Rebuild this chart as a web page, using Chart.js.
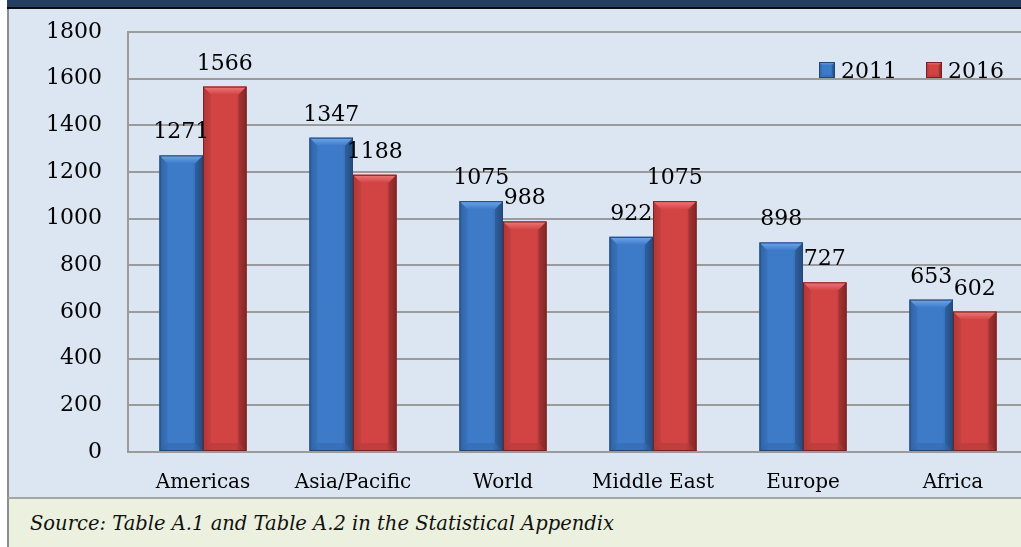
<!DOCTYPE html>
<html><head><meta charset="utf-8">
<script src="https://cdn.jsdelivr.net/npm/chart.js@4"></script>
<style>
html,body{margin:0;padding:0;background:#fff;overflow:hidden;width:1021px;height:547px;}
#top{position:absolute;left:7px;top:0;width:1014px;height:7px;background:#243f60;border-bottom:2px solid #0d0d0d;}
#main{position:absolute;left:7px;top:9px;width:1014px;height:488px;background:#dce6f2;border-left:2px solid #8c8c8c;overflow:hidden;}
#main canvas{position:absolute;left:0;top:0;}
#foot{position:absolute;left:7px;top:497px;width:1014px;height:48px;background:#ebf1de;border-left:2px solid #8c8c8c;border-top:2px solid #a6a6a6;font:italic 19.5px "DejaVu Serif",serif;color:#111;}
#foot span{position:absolute;left:21px;top:15px;line-height:19px;white-space:nowrap;}
</style></head>
<body>
<div id="top"></div>
<div id="main"><canvas id="c" width="1025" height="488"></canvas></div>
<div id="foot"><span>Source: Table A.1 and Table A.2 in the Statistical Appendix</span></div>
<script>
const categories = ['Americas','Asia/Pacific','World','Middle East','Europe','Africa'];
const values2011 = [1271,1347,1075,922,898,653];
const values2016 = [1566,1188,988,1075,727,602];
const seriesLabels = ['2011','2016'];
const yTickValues = [0,200,400,600,800,1000,1200,1400,1600,1800];

const palettes = [
  {mid:'#3d7bc9', light:'#6fa8ea', left:'#3268ad', right:'#2a5893', border:'#22467a'},
  {mid:'#d24444', light:'#ef7a7a', left:'#b93a3a', right:'#9c2d2d', border:'#7a2020'}
];

function bevel(ctx, x0, x1, yTop, yBase, p){
  const w = x1 - x0, h = yBase - yTop;
  const b = Math.min(8, w/5, h/2);
  const g = ctx.createLinearGradient(x0,0,x1,0);
  g.addColorStop(0,p.left); g.addColorStop(0.2,p.mid); g.addColorStop(0.75,p.mid); g.addColorStop(1,p.right);
  ctx.fillStyle = g; ctx.fillRect(x0,yTop,w,h);
  const gt = ctx.createLinearGradient(0,yTop,0,yTop+b);
  gt.addColorStop(0,p.light); gt.addColorStop(1,p.mid);
  ctx.fillStyle = gt;
  ctx.beginPath(); ctx.moveTo(x0,yTop); ctx.lineTo(x1,yTop); ctx.lineTo(x1-b,yTop+b); ctx.lineTo(x0+b,yTop+b); ctx.closePath(); ctx.fill();
  ctx.fillStyle = 'rgba(0,0,0,0.05)';
  ctx.beginPath(); ctx.moveTo(x0,yTop); ctx.lineTo(x0+b,yTop+b); ctx.lineTo(x0+b,yBase-b); ctx.lineTo(x0,yBase); ctx.closePath(); ctx.fill();
  ctx.fillStyle = 'rgba(0,0,0,0.15)';
  ctx.beginPath(); ctx.moveTo(x1,yTop); ctx.lineTo(x1-b,yTop+b); ctx.lineTo(x1-b,yBase-b); ctx.lineTo(x1,yBase); ctx.closePath(); ctx.fill();
  ctx.fillStyle = 'rgba(0,0,0,0.08)';
  ctx.beginPath(); ctx.moveTo(x0,yBase); ctx.lineTo(x0+b,yBase-b); ctx.lineTo(x1-b,yBase-b); ctx.lineTo(x1,yBase); ctx.closePath(); ctx.fill();
  ctx.strokeStyle = p.border; ctx.lineWidth = 1;
  ctx.strokeRect(x0+0.5,yTop+0.5,w-1,h-1);
}

const bevelPlugin = {
  id:'bevelBars',
  afterDatasetsDraw(chart){
    const ctx = chart.ctx;
    ctx.save();
    chart.data.datasets.forEach((ds,di)=>{
      const meta = chart.getDatasetMeta(di);
      meta.data.forEach((el)=>{
        const pr = el.getProps(['x','y','width','base'], true);
        bevel(ctx, pr.x - pr.width/2, pr.x + pr.width/2, pr.y, pr.base, palettes[di]);
      });
    });
    ctx.fillStyle = '#000';
    ctx.font = '22px "DejaVu Serif"';
    ctx.textAlign = 'center';
    ctx.textBaseline = 'alphabetic';
    chart.data.datasets.forEach((ds,di)=>{
      const meta = chart.getDatasetMeta(di);
      meta.data.forEach((el,i)=>{
        const pr = el.getProps(['x','y'], true);
        ctx.fillText(String(ds.data[i]), pr.x, pr.y - 17);
      });
    });
    const legendX = [810, 917];
    chart.data.datasets.forEach((ds,di)=>{
      const lx = legendX[di];
      bevel(ctx, lx, lx+16, 53, 69, palettes[di]);
      ctx.fillStyle = '#000';
      ctx.textAlign = 'left';
      ctx.fillText(ds.label, lx+22, 69);
    });
    ctx.restore();
  }
};

new Chart(document.getElementById('c'), {
  type:'bar',
  data:{
    labels: categories,
    datasets:[
      {label:seriesLabels[0], data:values2011, backgroundColor:palettes[0].mid, borderWidth:0},
      {label:seriesLabels[1], data:values2016, backgroundColor:palettes[1].mid, borderWidth:0}
    ]
  },
  options:{
    responsive:false,
    animation:false,
    layout:{padding:{top:23,right:6,bottom:0,left:0}},
    categoryPercentage:0.58,
    barPercentage:1,
    plugins:{legend:{display:false}, tooltip:{enabled:false}},
    scales:{
      x:{
        grid:{display:false, drawTicks:false},
        border:{display:false},
        ticks:{color:'#000', font:{family:'DejaVu Serif', size:20}, padding:19, maxRotation:0, autoSkip:false},
        afterFit(s){ s.height = 45; s.paddingLeft = 0; s.paddingRight = 0; }
      },
      y:{
        min:0, max:1800,
        afterBuildTicks(s){ s.ticks = yTickValues.map(v=>({value:v})); },
        grid:{color:'#9b9b9b', lineWidth:2, drawTicks:false},
        border:{display:true, color:'#9b9b9b', width:2},
        ticks:{color:'#000', font:{family:'DejaVu Serif', size:22}, padding:26, callback:(v)=>String(v)},
        afterFit(s){ s.width = 119; s.paddingTop = 0; s.paddingBottom = 0; }
      }
    }
  },
  plugins:[bevelPlugin]
});
</script>
</body></html>
